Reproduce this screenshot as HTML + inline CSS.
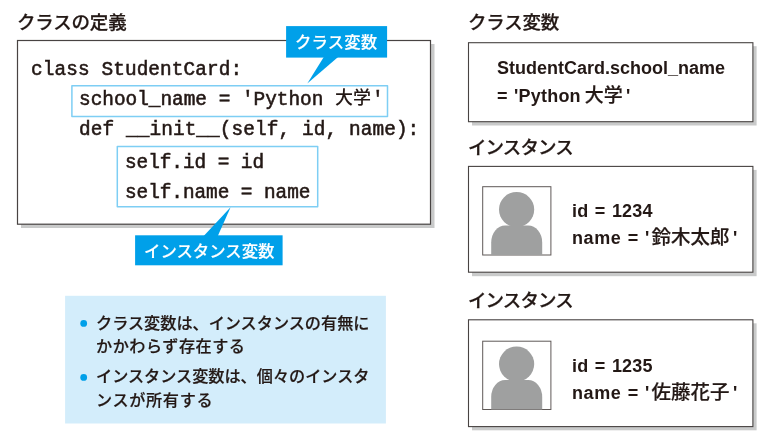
<!DOCTYPE html>
<html lang="ja">
<head>
<meta charset="utf-8">
<title>クラスの定義</title>
<style>
html,body{margin:0;padding:0;background:#fff;}
body{width:782px;height:446px;position:relative;overflow:hidden;font-family:"Liberation Sans","Noto Sans CJK JP",sans-serif;color:#231815;}
#bg{position:absolute;left:0;top:0;}
.t{will-change:transform;position:absolute;white-space:pre;line-height:1;margin:0;}
.h{font-family:"Liberation Sans","Noto Sans CJK JP",sans-serif;font-weight:500;font-size:18.500px;letter-spacing:-0.2px;-webkit-text-stroke:0.25px #231815;}
.code{font-family:"Liberation Mono","Noto Sans CJK JP",monospace;font-weight:normal;-webkit-text-stroke:0.55px #231815;font-size:19.4px;letter-spacing:0.1px;}
.code .j{font-size:18px;letter-spacing:0;font-weight:500;-webkit-text-stroke:0;position:relative;top:-1px;}
.code .q{margin-left:1px;}
.lab{font-family:"Liberation Sans","Noto Sans CJK JP",sans-serif;font-weight:500;font-size:16.400px;color:#fff;-webkit-text-stroke:0.15px #fff;}
.note{font-family:"Liberation Sans","Noto Sans CJK JP",sans-serif;font-weight:500;font-size:16.150px;-webkit-text-stroke:0.2px #231815;}
.val{font-family:"Liberation Sans","Noto Sans CJK JP",sans-serif;font-weight:bold;font-size:18px;letter-spacing:0.2px;word-spacing:1.2px;}
.val .j{font-size:19.500px;letter-spacing:0;font-weight:500;-webkit-text-stroke:0.2px #231815;position:relative;top:0;margin-left:2px;}
.val .w{letter-spacing:0.6px;}
.val .q{margin-left:3.500px;}
</style>
</head>
<body>
<svg id="bg" width="782" height="446" viewBox="0 0 782 446">
  <!-- left code box with shadow -->
  <rect x="21" y="44" width="413.500" height="184" fill="#c9caca"/>
  <rect x="17.500" y="40.500" width="413" height="183.700" fill="#fff" stroke="#484342" stroke-width="1.200"/>
  <!-- blue highlight boxes -->
  <rect x="71.900" y="85.800" width="315.600" height="30.600" fill="#fff" stroke="#7ecef4" stroke-width="1.500" stroke-linejoin="round"/>
  <rect x="117.300" y="146.600" width="200.400" height="60.100" fill="#fff" stroke="#7ecef4" stroke-width="1.500" stroke-linejoin="round"/>
  <!-- callouts -->
  <polygon points="323.800,57 338.100,57 307.300,83.500" fill="#00a0e9"/>
  <rect x="286.100" y="26.100" width="101" height="31.500" fill="#00a0e9"/>
  <polygon points="203.700,236 217.800,236 230.600,207.300" fill="#00a0e9"/>
  <rect x="135.100" y="235.300" width="147.500" height="30" fill="#00a0e9"/>
  <!-- note box -->
  <rect x="65.100" y="295.800" width="320.800" height="127.700" fill="#d3edfb"/>
  <circle cx="83.700" cy="323.400" r="3.400" fill="#00a0e9"/>
  <circle cx="83.700" cy="377.400" r="3.400" fill="#00a0e9"/>
  <!-- right boxes -->
  <rect x="472" y="46.200" width="284.600" height="79.300" fill="#c9caca"/>
  <rect x="468.500" y="42.700" width="284.400" height="79" fill="#fff" stroke="#484342" stroke-width="1.100"/>
  <rect x="472" y="169.900" width="284.600" height="106.300" fill="#c9caca"/>
  <rect x="468.500" y="166.400" width="284.400" height="105.800" fill="#fff" stroke="#484342" stroke-width="1.100"/>
  <rect x="472" y="323.300" width="284.600" height="107" fill="#c9caca"/>
  <rect x="468.500" y="319.800" width="284.400" height="106.800" fill="#fff" stroke="#484342" stroke-width="1.100"/>
  <!-- avatars -->
  <g id="av1">
    <rect x="482.700" y="186.700" width="68.200" height="68.300" fill="#fff" stroke="#5f5957" stroke-width="1"/>
    <circle cx="516.600" cy="209.600" r="17.600" fill="#9fa0a0"/>
    <path d="M491.200 255 V242.600 A14 17 0 0 1 505.200 225.600 H528.200 A14 17 0 0 1 542.200 242.600 V255 Z" fill="#9fa0a0"/>
  </g>
  <g id="av2" transform="translate(0,154.500)">
    <rect x="482.700" y="186.700" width="68.200" height="68.300" fill="#fff" stroke="#5f5957" stroke-width="1"/>
    <circle cx="516.600" cy="209.600" r="17.600" fill="#9fa0a0"/>
    <path d="M491.200 255 V242.600 A14 17 0 0 1 505.200 225.600 H528.200 A14 17 0 0 1 542.200 242.600 V255 Z" fill="#9fa0a0"/>
  </g>
</svg>

<div class="t h" id="h1" style="left:17.400px;top:14px;">クラスの定義</div>
<div class="t code" id="c1" style="left:31px;top:60.500px;">class StudentCard:</div>
<div class="t code" id="c2" style="left:78.500px;top:91.200px;letter-spacing:0;">school_name = 'Python <span class="j">大学</span><span class="q">'</span></div>
<div class="t code" id="c3" style="left:78.500px;top:121.200px;">def __init__(self, id, name):</div>
<div class="t code" id="c4" style="left:124.700px;top:153.700px;letter-spacing:-0.05px;">self.id = id</div>
<div class="t code" id="c5" style="left:124.700px;top:184.200px;letter-spacing:-0.05px;">self.name = name</div>
<div class="t lab" id="l1" style="left:295px;top:33.800px;letter-spacing:0.15px;">クラス変数</div>
<div class="t lab" id="l2" style="left:144px;top:242.800px;">インスタンス変数</div>

<div class="t note" id="n1" style="left:96.300px;top:314.800px;">クラス変数は、インスタンスの有無に</div>
<div class="t note" id="n2" style="left:96.300px;top:337.500px;letter-spacing:0.5px;">かかわらず存在する</div>
<div class="t note" id="n3" style="left:96.300px;top:367.800px;">インスタンス変数は、個々のインスタ</div>
<div class="t note" id="n4" style="left:96.300px;top:391.500px;letter-spacing:0.65px;">ンスが所有する</div>

<div class="t h" id="h2" style="left:468px;top:13.800px;">クラス変数</div>
<div class="t val" id="v1" style="left:496.500px;top:59px;letter-spacing:0;">StudentCard.school_name</div>
<div class="t val" id="v2" style="left:496.500px;top:85.600px;">= 'Python <span class="j" style="margin-left:-2.500px;font-size:19px;top:-0.4px">大学</span><span class="q" style="margin-left:3.200px">'</span></div>
<div class="t h" id="h3" style="left:467.500px;top:139px;letter-spacing:-0.9px;">インスタンス</div>
<div class="t val" id="v3" style="left:572.300px;top:202.300px;">id = 1234</div>
<div class="t val" id="v4" style="left:572.300px;top:228.300px;"><span class="w">name</span> = '<span class="j">鈴木太郎</span><span class="q">'</span></div>
<div class="t h" id="h4" style="left:467.500px;top:292px;letter-spacing:-0.9px;">インスタンス</div>
<div class="t val" id="v5" style="left:572.300px;top:356.800px;">id = 1235</div>
<div class="t val" id="v6" style="left:572.300px;top:382.800px;"><span class="w">name</span> = '<span class="j">佐藤花子</span><span class="q">'</span></div>
</body>
</html>
